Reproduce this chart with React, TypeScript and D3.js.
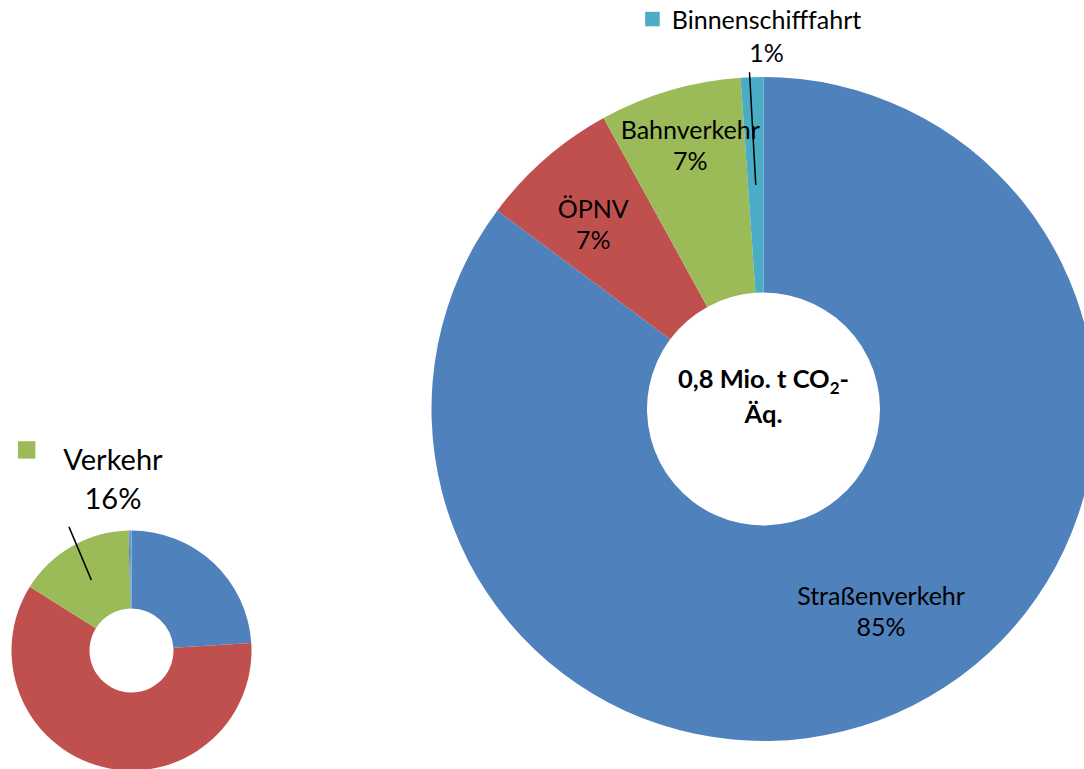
import React from "react";
import * as d3 from "d3";

// ---------- data ----------
const bigCategories = ["Straßenverkehr", "ÖPNV", "Bahnverkehr", "Binnenschifffahrt"];
const bigValues = [85.2, 6.8, 6.9, 1.1];
const bigCenterTitle = ["0,8 Mio. t CO", "2", "-"];
const bigCenterTitle2 = "Äq.";

const smallCategories = ["Private Haushalte", "Wirtschaft", "Verkehr", "Landwirtschaft", "Sonstige"];
const smallValues = [24.0, 59.9, 15.7, 0.15, 0.25];

// ---------- styles / layout ----------
const W = 1084;
const H = 769;
const bigColors = ["#4F81BD", "#C0504D", "#9BBB59", "#4BACC6"];
const smallColors = ["#4F81BD", "#C0504D", "#9BBB59", "#8064A2", "#4BACC6"];
const FONT = "Lato, 'Open Sans', sans-serif";

const BIG = { cx: 763.5, cy: 409, ro: 332, ri: 116.5 };
const SMALL = { cx: 131.5, cy: 650.5, ro: 120, ri: 42 };

// nudges of inside label (first-line baseline) relative to arc centroid
const bigLabelNudge = [
  { dx: 17, dy: -4 },
  { dx: -23, dy: -22 },
  { dx: -10, dy: -55 },
];

const pct = (v: number, all: number[]) => Math.round((v / d3.sum(all)) * 100) + "%";

export default function App() {
  const pie = d3.pie<number>().sort(null).value((d) => d).startAngle(0).endAngle(2 * Math.PI);

  const bigPie = pie(bigValues);
  const bigArc = d3.arc<d3.PieArcDatum<number>>().innerRadius(BIG.ri).outerRadius(BIG.ro);
  const smallPie = pie(smallValues);
  const smallArc = d3.arc<d3.PieArcDatum<number>>().innerRadius(SMALL.ri).outerRadius(SMALL.ro);

  const labelSize = 25;
  const lineGap = 31;

  // Binnenschifffahrt callout
  const cyan = bigPie[3];
  const cyanMid = (cyan.startAngle + cyan.endAngle) / 2;
  const [cIx, cIy] = bigArc.centroid(cyan);
  const [cOx, cOy] = d3.pointRadial(cyanMid - 0.007, BIG.ro + 5);
  const binCx = cOx + 17;

  // Verkehr callout (small donut)
  const green = smallPie[2];
  const greenMid = (green.startAngle + green.endAngle) / 2;
  const [gIx, gIy] = smallArc.centroid(green);
  const [gOx, gOy] = d3.pointRadial(greenMid + 0.05, SMALL.ro + 18.5);
  const verCx = gOx + 44;

  return (
    <svg
      width={W}
      height={H}
      style={{ position: "absolute", left: 0, top: 0, display: "block", background: "#fff" }}
      fontFamily={FONT}
    >
      {/* small donut */}
      <g transform={`translate(${SMALL.cx},${SMALL.cy})`}>
        {smallPie.map((d, i) => (
          <path key={smallCategories[i]} d={smallArc(d) || ""} fill={smallColors[i]} />
        ))}
        <line x1={gIx} y1={gIy} x2={gOx} y2={gOy} stroke="#000" strokeWidth={1.5} />
        <rect x={verCx - 95} y={gOy - 85.7} width={17.4} height={17.4} fill={smallColors[2]} />
        <text x={verCx} y={gOy - 57.4} textAnchor="middle" fontSize={29} fill="#000">
          {smallCategories[2]}
        </text>
        <text x={verCx} y={gOy - 18.4} textAnchor="middle" fontSize={29} fill="#000">
          {pct(smallValues[2], smallValues)}
        </text>
      </g>

      {/* big donut */}
      <g transform={`translate(${BIG.cx},${BIG.cy})`}>
        {bigPie.map((d, i) => (
          <path key={bigCategories[i]} d={bigArc(d) || ""} fill={bigColors[i]} />
        ))}
        {bigPie.slice(0, 3).map((d, i) => {
          const [x, y] = bigArc.centroid(d);
          const lx = x + bigLabelNudge[i].dx;
          const ly = y + bigLabelNudge[i].dy;
          return (
            <g key={"lbl" + i}>
              <text x={lx} y={ly} textAnchor="middle" fontSize={labelSize} fill="#000">
                {bigCategories[i]}
              </text>
              <text x={lx} y={ly + lineGap} textAnchor="middle" fontSize={labelSize} fill="#000">
                {pct(bigValues[i], bigValues)}
              </text>
            </g>
          );
        })}
        <line x1={cIx} y1={cIy} x2={cOx} y2={cOy} stroke="#000" strokeWidth={1.5} />
        <rect x={binCx - 121.3} y={cOy - 60.5} width={14.5} height={14.5} fill={bigColors[3]} />
        <text x={binCx} y={cOy - 43} textAnchor="middle" fontSize={labelSize} fill="#000">
          {bigCategories[3]}
        </text>
        <text x={binCx} y={cOy - 10.5} textAnchor="middle" fontSize={labelSize} fill="#000">
          {pct(bigValues[3], bigValues)}
        </text>

        {/* center title */}
        <text x={0} y={-21} textAnchor="middle" fontSize={25.5} fontWeight="bold" fill="#000">
          {bigCenterTitle[0]}
          <tspan fontSize={17} dy={6}>{bigCenterTitle[1]}</tspan>
          <tspan dy={-6}>{bigCenterTitle[2]}</tspan>
        </text>
        <text x={0} y={14.3} textAnchor="middle" fontSize={25.5} fontWeight="bold" fill="#000">
          {bigCenterTitle2}
        </text>
      </g>
    </svg>
  );
}
